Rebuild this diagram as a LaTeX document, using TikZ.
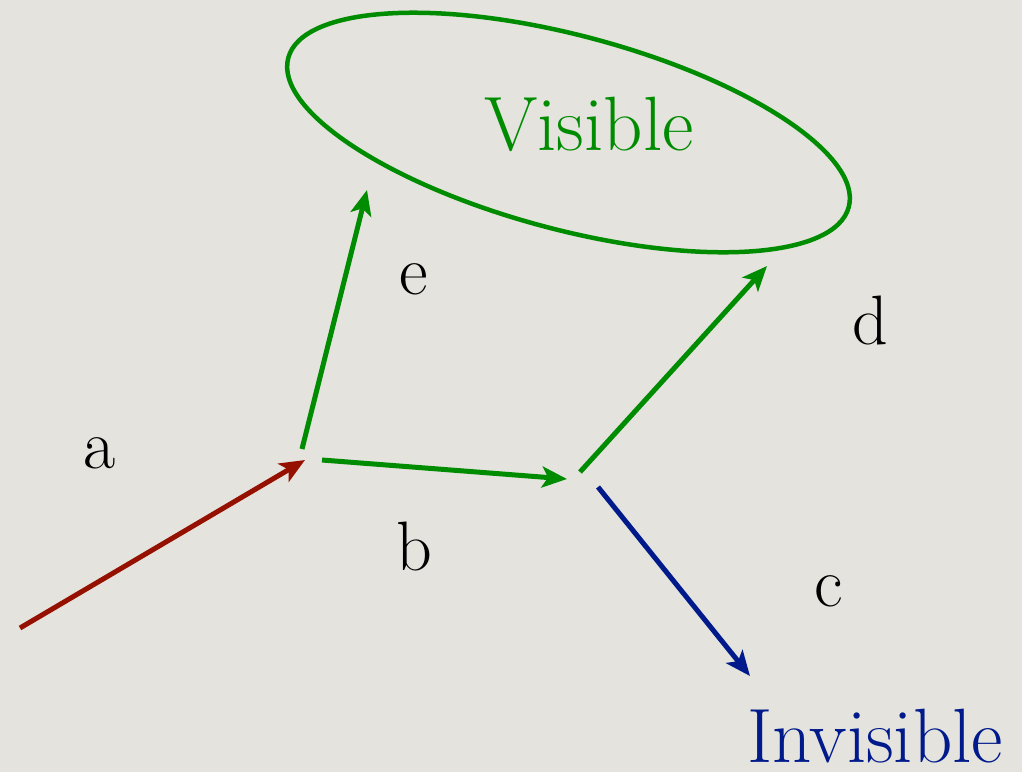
\documentclass[tikz,border=0pt]{standalone}
\usetikzlibrary{arrows.meta}
\definecolor{paper}{RGB}{228,227,222}
\definecolor{vgreen}{RGB}{0,140,0}
\definecolor{ired}{RGB}{150,16,0}
\definecolor{iblue}{RGB}{0,26,140}
\tikzset{
  conn/.style={line width=5pt, -{Stealth[length=25pt,width=21pt,inset=6pt]}},
  lbl/.style={anchor=base, inner sep=0pt, font=\fontsize{70}{80}\selectfont},
  big/.style={anchor=base, inner sep=0pt, font=\fontsize{77}{86}\selectfont}
}
\begin{document}
\begin{tikzpicture}[x=1pt,y=-1pt]
\fill[paper] (0,0) rectangle (1022,772);
\useasboundingbox (0,0) rectangle (1022,772);
% ellipse
\draw[vgreen, line width=4.5pt, rotate around={-14.9:(568.5,132.5)}] (568.5,132.5) ellipse [x radius=290, y radius=97];
\node[big, text=vgreen] (vis) at (589,150) {Visible};
\node[big, text=iblue] (invis) at (875,762) {Invisible};
% endpoints
\coordinate (a0) at (20,628);
\coordinate (a1) at (305,460);
\coordinate (e0) at (302,449);
\coordinate (e1) at (367,190);
\coordinate (b0) at (322,460);
\coordinate (b1) at (567,479);
\coordinate (d0) at (580,472);
\coordinate (d1) at (767,266);
\coordinate (c0) at (598,487);
\coordinate (c1) at (750,676);
\draw[conn, ired] (a0) -- (a1);
\draw[conn, vgreen] (e0) -- (e1);
\draw[conn, vgreen] (b0) -- (b1);
\draw[conn, vgreen] (d0) -- (d1);
\draw[conn, iblue] (c0) -- (c1);
% labels
\node[lbl] (la) at (100,468) {a};
\node[lbl] (lb) at (414,570) {b};
\node[lbl] (lc) at (829,606) {c};
\node[lbl] (ld) at (870,344) {d};
\node[lbl] (le) at (414,294) {e};
\end{tikzpicture}
\end{document}
